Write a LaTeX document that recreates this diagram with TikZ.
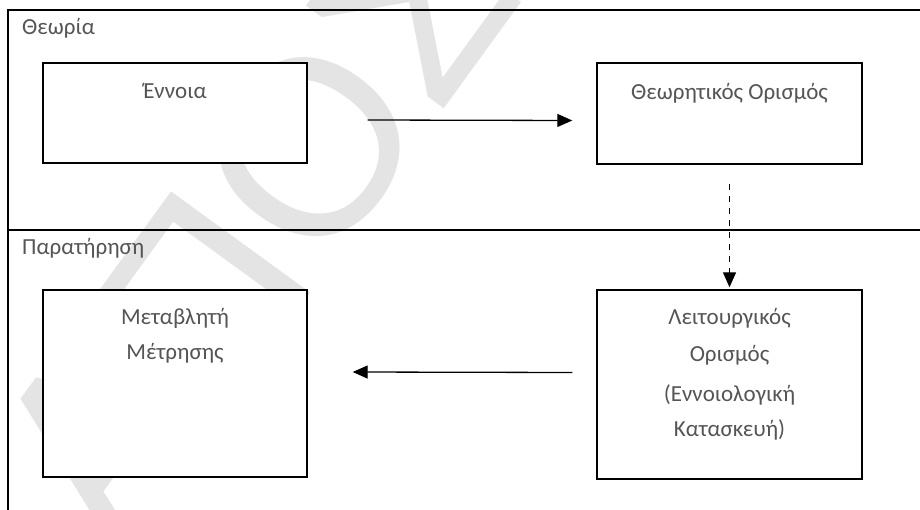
\documentclass[tikz,border=0pt]{standalone}
\usepackage{fontspec}
\setmainfont{Carlito}
\newfontfamily\markfont{Liberation Sans}
\usetikzlibrary{arrows.meta,calc}
\definecolor{txtgray}{HTML}{555555}
\definecolor{wmgray}{HTML}{E4E4E4}
\begin{document}
\begin{tikzpicture}[x=1pt,y=-1pt,
  boxnode/.style={draw=black, line width=1.4pt, fill=white, inner sep=0pt},
  lbl/.style={text=txtgray, font=\fontsize{23}{27}\selectfont, inner sep=0pt, anchor=base},
  sect/.style={text=txtgray, font=\fontsize{23}{27}\selectfont, inner sep=0pt, anchor=base west},
  frameline/.style={line width=1.7pt, draw=black},
  arr/.style={line width=1.3pt, -{Triangle[length=15pt,width=13pt]}},
  dasharr/.style={arr, dash pattern=on 6pt off 6pt},
  wm/.style={text=wmgray, font=\markfont\fontsize{250}{250}\selectfont, inner sep=0pt}
]
\useasboundingbox (0,0) rectangle (920,510);

% faint diagonal watermark in the background
\begin{scope}
  \clip (0,0) rectangle (920,510);
  \node[wm, rotate=54, anchor=base west] (mark) at (118,558) {ΑΠΟΣΠΑΣΜΑ};
\end{scope}

% section frame: theory above, observation below
\draw[frameline] (8,510) -- (8,10) -- (920,10);
\draw[frameline] (8,230) -- (920,230);
\node[sect] (theory) at (22,35) {Θεωρία};
\node[sect] (observ) at (22,255) {Παρατήρηση};

% boxes
\node[boxnode, minimum width=264pt, minimum height=100pt] (ennoia) at (175,113) {};
\node[boxnode, minimum width=265pt, minimum height=101pt] (theor) at (729.5,113.5) {};
\node[boxnode, minimum width=265pt, minimum height=189pt] (oper) at (729.5,384.5) {};
\node[boxnode, minimum width=264pt, minimum height=187pt] (metab) at (175,383.5) {};

% box texts
\node[lbl] (ennoiaT) at ($(ennoia.north)+(0,36)$) {Έννοια};
\node[lbl] (theorT) at ($(theor.north)+(0,37)$) {Θεωρητικός Ορισμός};
\node[lbl] (operA) at ($(oper.north)+(0,35)$) {Λειτουργικός};
\node[lbl] (operB) at ($(oper.north)+(0,72)$) {Ορισμός};
\node[lbl] (operC) at ($(oper.north)+(0,112)$) {(Εννοιολογική};
\node[lbl] (operD) at ($(oper.north)+(0,147)$) {Κατασκευή)};
\node[lbl] (metabA) at ($(metab.north)+(0,35)$) {Μεταβλητή};
\node[lbl] (metabB) at ($(metab.north)+(0,70)$) {Μέτρησης};

% connectors
\draw[arr] ($(ennoia.east)+(60,7)$) -- ($(theor.west)+(-24,7)$);
\draw[dasharr] ($(theor.south)+(0,19)$) -- ($(oper.north)+(0,-2)$);
\draw[arr] ($(oper.west)+(-24,-12)$) -- ($(metab.east)+(45,-11.5)$);
\end{tikzpicture}
\end{document}
